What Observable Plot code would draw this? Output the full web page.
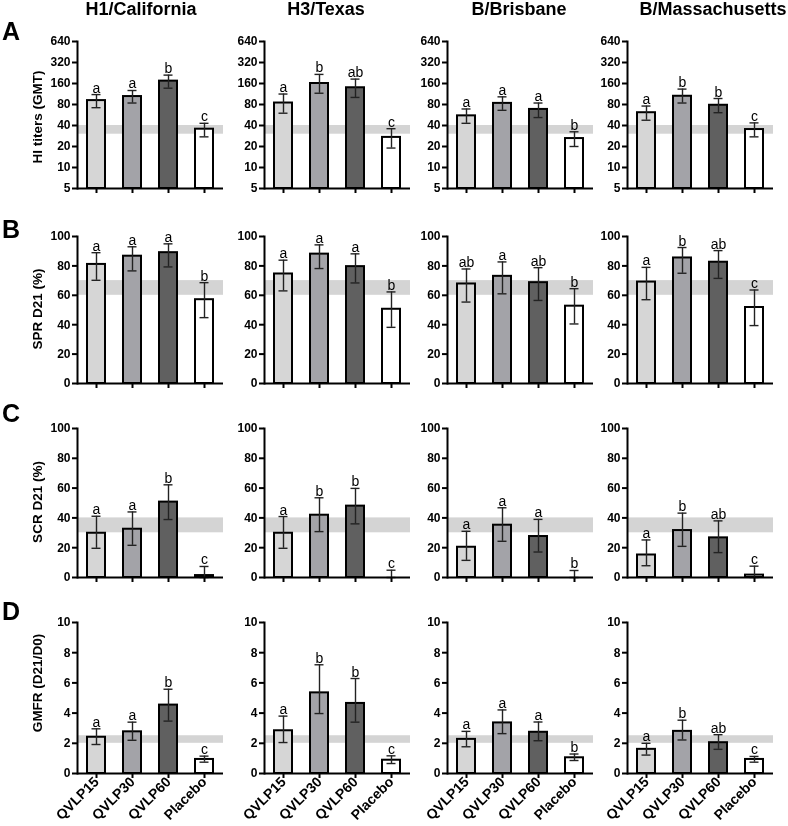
<!DOCTYPE html>
<html><head><meta charset="utf-8">
<script src="https://cdn.jsdelivr.net/npm/d3@7"></script>
<script src="https://cdn.jsdelivr.net/npm/@observablehq/plot@0.6"></script>
<style>
body{margin:0;background:#fff;}
#fig{position:relative;width:788px;height:826px;overflow:hidden;font-family:"Liberation Sans",Arial,Helvetica,sans-serif;background:#fff;}
#fig svg{will-change:transform;}
#overlay{position:absolute;left:0;top:0;}
</style></head><body><div id="fig"></div>
<script>
// ---- categories ----
const groups = ["QVLP15", "QVLP30", "QVLP60", "Placebo"];
const strains = ["H1/California", "H3/Texas", "B/Brisbane", "B/Massachusetts"];
const rowLetters = ["A", "B", "C", "D"];
const yLabels = ["HI titers (GMT)", "SPR D21 (%)", "SCR D21 (%)", "GMFR (D21/D0)"];

// ---- Row A: HI titers (GMT), one inner array per strain ----
const hiMean = [[91, 104, 173, 35.4], [84, 160, 139, 27], [55, 83, 68, 26], [61, 105, 78, 35]];
const hiLow  = [[72, 84, 137, 27.5], [60, 116, 101, 19], [43, 66, 52, 20], [47.6, 84, 61, 27.5]];
const hiHigh = [[111, 127, 211, 43], [113, 216, 185, 36], [69, 103, 84, 32.5], [76, 133, 97.5, 43.6]];
const hiSig  = [["a","a","b","c"], ["a","b","ab","c"], ["a","a","a","b"], ["a","b","b","c"]];
const hiTicks = [5, 10, 20, 40, 80, 160, 320, 640];
const hiBand = [30, 40];

// ---- Row B: SPR D21 (%) ----
const sprMean = [[81, 86.6, 89, 57], [74.5, 88, 79.5, 50.5], [67.7, 72.9, 68.6, 52.6], [69, 85.4, 82.5, 51.7]];
const sprLow  = [[70.2, 76.6, 79.3, 44.8], [63, 78.2, 68.4, 38.2], [55.4, 61, 56.5, 40.5], [57, 75, 71.5, 39.4]];
const sprHigh = [[89, 93, 95, 68.6], [83.9, 94.3, 88.2, 62.3], [77.9, 82.7, 78.8, 64.5], [79, 92.5, 90.4, 63.6]];
const sprSig  = [["a","a","a","b"], ["a","a","a","b"], ["ab","a","ab","b"], ["a","b","ab","c"]];
const pctTicks = [0, 20, 40, 60, 80, 100];
const sprBand = [60, 70];

// ---- Row C: SCR D21 (%) ----
const scrMean = [[29.7, 32.4, 50.6, 1.3], [29.7, 41.8, 47.9, 0], [20.3, 35.1, 27.5, 0], [15.1, 31.5, 26.6, 1.6]];
const scrLow  = [[19.6, 21.6, 38.9, 0], [19.6, 30.8, 36, 0], [11.5, 24.3, 17.1, 0], [7.9, 20.9, 16.7, 0]];
const scrHigh = [[41.1, 44, 62.2, 7.4], [40.9, 53.5, 59.8, 4.9], [31, 46.8, 39, 4.7], [25.2, 43.2, 38, 7.6]];
const scrSig  = [["a","a","b","c"], ["a","b","b","c"], ["a","a","a","b"], ["a","b","ab","c"]];
const scrBand = [30, 40];

// ---- Row D: GMFR (D21/D0) ----
const gmfrMean = [[2.4, 2.76, 4.53, 0.93], [2.83, 5.34, 4.64, 0.88], [2.26, 3.35, 2.73, 1.04], [1.6, 2.79, 2.04, 0.93]];
const gmfrLow  = [[1.92, 2.2, 3.47, 0.75], [2.05, 3.97, 3.4, 0.66], [1.77, 2.64, 2.17, 0.86], [1.22, 2.22, 1.6, 0.75]];
const gmfrHigh = [[2.96, 3.4, 5.58, 1.15], [3.8, 7.2, 6.29, 1.17], [2.79, 4.21, 3.41, 1.29], [2.0, 3.53, 2.57, 1.13]];
const gmfrSig  = [["a","a","b","c"], ["a","b","b","c"], ["a","a","a","b"], ["a","b","ab","c"]];
const gmfrTicks = [0, 2, 4, 6, 8, 10];
const gmfrBand = [2, 2.5];

// ---- styles / layout ----
const barColors = ["#d6d6d6", "#a3a3a8", "#606060", "#ffffff"];
const bandColor = "#d4d4d4";
const colAxisX = [77, 264, 447, 627];
const plotW = 146;
const titleX = [141, 326, 519, 713];

const rows = [
  {mean: hiMean, low: hiLow, high: hiHigh, sig: hiSig, ticks: hiTicks, band: hiBand, type: "log", top: 41, bottom: 188, labelY: 117, letterY: 40},
  {mean: sprMean, low: sprLow, high: sprHigh, sig: sprSig, ticks: pctTicks, band: sprBand, type: "linear", top: 236, bottom: 383, labelY: 309, letterY: 238},
  {mean: scrMean, low: scrLow, high: scrHigh, sig: scrSig, ticks: pctTicks, band: scrBand, type: "linear", top: 428, bottom: 577, labelY: 502, letterY: 422},
  {mean: gmfrMean, low: gmfrLow, high: gmfrHigh, sig: gmfrSig, ticks: gmfrTicks, band: gmfrBand, type: "linear", top: 622, bottom: 773, labelY: 683, letterY: 620}
];

const fig = document.getElementById("fig");
const mL = 36, mR = 8, mT = 14;

rows.forEach((row, r) => {
  const last = r === rows.length - 1;
  const mB = last ? 826 - row.bottom : 10;
  const yDomain = [row.ticks[0], row.ticks[row.ticks.length - 1]];
  strains.forEach((strain, c) => {
    const data = groups.map((g, i) => ({
      group: g, mean: row.mean[c][i], lo: row.low[c][i], hi: row.high[c][i], sig: row.sig[c][i]
    }));
    const plot = Plot.plot({
      width: mL + plotW + mR,
      height: mT + (row.bottom - row.top) + mB,
      marginLeft: mL, marginRight: mR, marginTop: mT, marginBottom: mB,
      style: {fontFamily: '"Liberation Sans", Arial, Helvetica, sans-serif', fontSize: "12px", fontWeight: "bold", overflow: "visible", background: "transparent", color: "black"},
      x: {domain: groups, paddingInner: 0.5, paddingOuter: 0.25, axis: null},
      y: {type: row.type, base: row.type === "log" ? 2 : undefined, domain: yDomain, axis: null},
      color: {domain: groups, range: barColors},
      marks: [
        Plot.rectY([row.band], {y1: d => d[0], y2: d => d[1], fill: bandColor}),
        Plot.barY(data, {x: "group", y1: yDomain[0], y2: "mean", fill: "group", stroke: "black", strokeWidth: 2}),
        Plot.ruleX(data, {x: "group", y1: "lo", y2: "hi", stroke: "#222", strokeWidth: 1.4}),
        Plot.tickY(data, {x: "group", y: "hi", stroke: "#222", strokeWidth: 1.4, insetLeft: 4.5, insetRight: 4.5}),
        Plot.tickY(data, {x: "group", y: "lo", stroke: "#222", strokeWidth: 1.4, insetLeft: 4.5, insetRight: 4.5}),
        Plot.text(data, {x: "group", y: "hi", text: "sig", dy: -2, lineAnchor: "bottom", fontSize: 14, fontWeight: "normal", fill: "#000"}),
        Plot.axisY({ticks: row.ticks, tickFormat: d => String(d), tickSize: 5, tickPadding: 2, strokeWidth: 2, label: null}),
        last
          ? Plot.axisX({tickSize: 5, strokeWidth: 2, tickRotate: -45, tickPadding: 1, fontSize: 14, label: null})
          : Plot.axisX({tickSize: 5, strokeWidth: 2, tickFormat: () => "", label: null}),
        Plot.frame({anchor: "left", strokeWidth: 2}),
        Plot.ruleY([yDomain[0]], {strokeWidth: 2})
      ]
    });
    plot.style.position = "absolute";
    plot.style.left = (colAxisX[c] - mL) + "px";
    plot.style.top = (row.top - mT) + "px";
    fig.appendChild(plot);
  });
});

// overlay text: titles, row letters, y labels
const ov = d3.select(fig).append("svg").attr("id", "overlay").attr("width", 788).attr("height", 826)
  .style("font-family", '"Liberation Sans", Arial, Helvetica, sans-serif').style("pointer-events", "none");
ov.selectAll("text.title").data(strains).join("text").attr("class", "title")
  .attr("x", (d, i) => titleX[i]).attr("y", 15).attr("text-anchor", "middle")
  .attr("font-size", 18).attr("font-weight", "bold").text(d => d);
ov.selectAll("text.letter").data(rows).join("text").attr("class", "letter")
  .attr("x", 2).attr("y", d => d.letterY).attr("font-size", 25).attr("font-weight", "bold")
  .text((d, i) => rowLetters[i]);
ov.selectAll("text.ylab").data(rows).join("text").attr("class", "ylab")
  .attr("transform", d => `translate(37.5,${d.labelY}) rotate(-90)`).attr("dy", "0.35em")
  .attr("text-anchor", "middle").attr("font-size", 13.5).attr("font-weight", "bold")
  .text((d, i) => yLabels[i]);
</script></body></html>
